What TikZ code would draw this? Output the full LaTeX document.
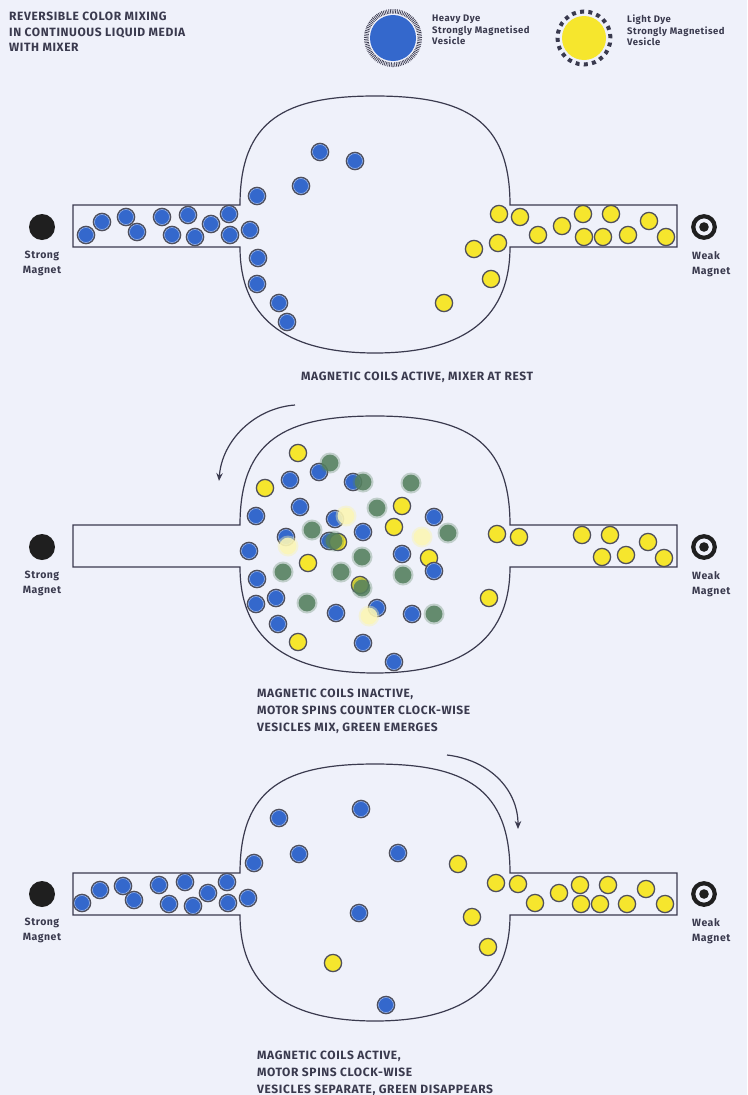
\documentclass[tikz,border=0pt]{standalone}
\usepackage{fontspec}
\setmainfont{Fira Sans}
\newfontfamily\labelfont{Fira Sans}[LetterSpace=5]
\usetikzlibrary{arrows.meta}
\usetikzlibrary{positioning}

\definecolor{ink}{RGB}{58,58,78}
\definecolor{paper}{RGB}{239,241,250}
\definecolor{dyeblue}{RGB}{52,104,204}
\definecolor{dyeyellow}{RGB}{246,230,45}
\definecolor{dyegreen}{RGB}{84,128,94}
\definecolor{rim}{RGB}{80,80,92}

\tikzset{
  heavy/.pic={\fill[dyeblue,draw=rim,line width=1.4pt] (0,0) circle (8.6pt);
              \draw[dyeblue!45!white,line width=0.5pt] (0,0) circle (7.5pt);},
  light/.pic={\fill[dyeyellow,draw=rim,line width=1.3pt] (0,0) circle (8.6pt);},
  mixed/.pic={\fill[dyegreen,opacity=0.3] (0,0) circle (10.5pt);
              \fill[dyegreen,opacity=0.85] (0,0) circle (8.4pt);},
  faded/.pic={\fill[dyeyellow!40!white,opacity=0.4] (0,0) circle (10.5pt);
              \fill[dyeyellow!35!white,opacity=0.85] (0,0) circle (8.4pt);}
}

% chamber with its two pipes, shifted down by #1
\newcommand{\chamber}[1]{%
  \draw[wall,shift={(0,#1)}] (240,205) .. controls (240,120) and (285,96) .. (375,96)
    .. controls (465,96) and (510,120) .. (510,205) -- (677,205) -- (677,247) -- (510,247)
    .. controls (510,325) and (455,353) .. (375,353)
    .. controls (295,353) and (240,325) .. (240,247) -- (73,247) -- (73,205) -- cycle;}

\begin{document}
\begin{tikzpicture}[x=1pt,y=-1pt,
    wall/.style={draw=ink,line width=1.2pt},
    turn/.style={draw=ink,line width=1.2pt,-{Stealth[length=8pt,width=6.5pt]}},
    heading/.style={font=\labelfont\bfseries\fontsize{12}{15.5}\selectfont,text=ink,align=left,anchor=north west,inner sep=0},
    caption/.style={font=\labelfont\bfseries\fontsize{12}{17}\selectfont,text=ink,align=left,anchor=north west,inner sep=0},
    legendtext/.style={font=\labelfont\bfseries\fontsize{9.5}{11.5}\selectfont,text=ink,align=left,anchor=north west,inner sep=0},
    maglabel/.style={font=\labelfont\bfseries\fontsize{10.5}{15}\selectfont,text=ink,inner sep=0},
    strongmag/.style={circle,fill=black!88,minimum size=26pt,inner sep=0},
    weakmag/.style={circle,draw=black!88,line width=4.2pt,minimum size=21.5pt,inner sep=0,
      path picture={\fill[black!88] (path picture bounding box.center) circle (4.8pt);}}]

\fill[paper] (0,0) rectangle (747,1095);
\useasboundingbox (0,0) rectangle (747,1095);

% title and legend
\node[heading] (title) at (9,12) {REVERSIBLE COLOR MIXING\\IN CONTINUOUS LIQUID MEDIA\\WITH MIXER};

\fill[dyeblue] (393,38) circle (23pt);
\draw[ink,line width=4.5pt,dash pattern=on 0.7pt off 1pt] (393,38) circle (26.8pt);
\node[legendtext] (heavytxt) at (432,15) {Heavy Dye\\Strongly Magnetised\\Vesicle};

\fill[dyeyellow] (584,38) circle (22pt);
\draw[ink,line width=4pt,dash pattern=on 4pt off 4.3pt] (584,38) circle (26.5pt);
\node[legendtext] (lighttxt) at (627,15) {Light Dye\\Strongly Magnetised\\Vesicle};

% magnets
\foreach \y/\k in {227/1,547/2,894/3} {
  \node[strongmag] (strong\k) at (42,\y) {};
  \node[maglabel,below=11pt of strong\k,align=center] {Strong\\Magnet};
  \node[weakmag] (weak\k) at (704,\y) {};
  \node[maglabel,align=left,anchor=north west] at (692,\y+24) {Weak\\Magnet};
}

% ---- coils active, mixer at rest
\chamber{0}
\foreach \p in {(86,235),(102,222),(126,217),(137,232),(162,217),(172,235),(188,215),(195,237),
  (211,224),(229,214),(230,235),(250,230),(257,196),(258,258),(257,284),(279,303),(287,322),
  (320,152),(355,161),(301,186)}
  \pic at \p {heavy};
\foreach \p in {(499,214),(520,217),(538,235),(562,226),(583,214),(584,237),(603,237),(611,214),
  (628,235),(649,221),(666,237),(498,243),(474,249),(491,279),(444,303)}
  \pic at \p {light};
\node[caption] (cap1) at (301,372) {MAGNETIC COILS ACTIVE, MIXER AT REST};

% ---- coils off, counter clock-wise spin
\chamber{320}
\coordinate (ccwA) at (295,405);
\coordinate (ccwB) at (219,481);
\draw[turn] (ccwA) .. controls (255,408) and (222,440) .. (ccwB);
\foreach \p in {(298,453),(265,488),(308,563),(298,642),(402,506),(394,527),(429,558),
  (497,534),(519,537),(582,535),(610,535),(648,542),(602,557),(626,555),(664,558),(489,598)}
  \pic at \p {light};
\foreach \p in {(290,480),(319,472),(353,482),(300,507),(256,516),(335,519),(363,532),(286,537),
  (329,541),(249,551),(402,554),(434,517),(434,571),(257,579),(276,598),(256,604),(278,624),
  (336,613),(377,608),(412,614),(363,643),(394,662)}
  \pic at \p {heavy};
\foreach \p in {(338,542),(360,585)}
  \pic at \p {light};
\foreach \p in {(330,463),(363,482),(411,483),(377,508),(312,530),(448,533),(334,541),(362,557),
  (283,572),(341,572),(403,575),(362,588),(307,603),(434,614)}
  \pic at \p {mixed};
\foreach \p in {(346,516),(288,546),(422,537),(369,616)}
  \pic at \p {faded};
\node[caption] (cap2) at (257,689) {MAGNETIC COILS INACTIVE,\\MOTOR SPINS COUNTER CLOCK-WISE\\VESICLES MIX, GREEN EMERGES};

% ---- coils on again, clock-wise spin
\chamber{668}
\coordinate (cwA) at (447,755);
\coordinate (cwB) at (518,829);
\draw[turn] (cwA) .. controls (490,760) and (518,790) .. (cwB);
\foreach \p in {(82,903),(100,890),(123,886),(134,900),(159,885),(169,904),(185,882),(193,906),
  (208,893),(227,882),(228,903),(248,898),(254,863),(279,818),(361,809),(299,854),(398,853),
  (359,913),(386,1005)}
  \pic at \p {heavy};
\foreach \p in {(458,864),(472,917),(488,947),(333,963),(496,883),(518,884),(535,903),(559,893),
  (580,885),(581,904),(600,904),(608,885),(627,904),(646,889),(665,904)}
  \pic at \p {light};
\node[caption] (cap3) at (257,1051) {MAGNETIC COILS ACTIVE,\\MOTOR SPINS CLOCK-WISE\\VESICLES SEPARATE, GREEN DISAPPEARS};

\end{tikzpicture}
\end{document}
